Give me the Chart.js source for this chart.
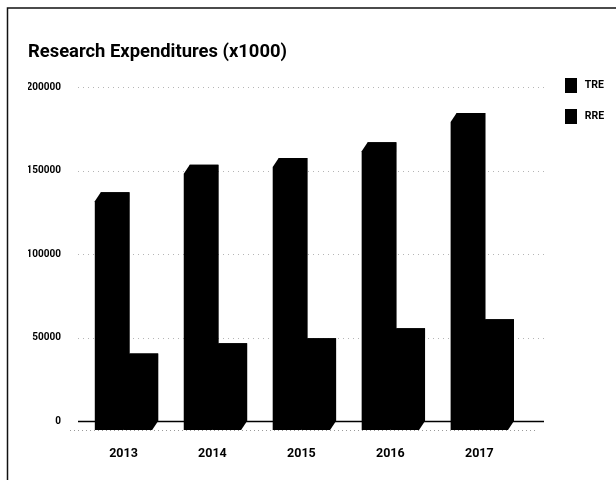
<!DOCTYPE html>
<html>
<head>
<meta charset="utf-8">
<script src="https://cdn.jsdelivr.net/npm/chart.js@4/dist/chart.umd.min.js"></script>
<style>
  html, body { margin: 0; padding: 0; background: #fff; overflow: hidden; }
  canvas { display: block; }
</style>
</head>
<body>
<canvas id="researchChart" width="616" height="480"></canvas>
<script>
const years = ['2013', '2014', '2015', '2016', '2017'];
const tre = [137000, 153500, 157500, 167000, 184500];
const rre = [40500, 46500, 49500, 55500, 61000];
const yTicks = [0, 50000, 100000, 150000, 200000];

// depth of the fake 3d columns
const depthX = -6;
const depthY = 9;

const frameAndGrid = {
  id: 'frameAndGrid',
  afterLayout(chart) {
    // legend sits further out than the layout would put it
    chart.legend.left = 549;
    chart.legend.top = 62;
    chart.legend.right = 616;
    chart.legend.width = 67;
  },
  beforeDatasetsDraw(chart) {
    const ctx = chart.ctx;
    const y = chart.scales.y;
    ctx.save();
    // photocopy border, only top and left
    ctx.strokeStyle = '#111';
    ctx.lineWidth = 1.5;
    ctx.beginPath();
    ctx.moveTo(7.5, 480);
    ctx.lineTo(7.5, 8);
    ctx.lineTo(616, 8);
    ctx.stroke();

    yTicks.forEach(v => {
      const py = Math.round(y.getPixelForValue(v)) + 0.5;
      ctx.beginPath();
      if (v === 0) {
        ctx.strokeStyle = '#000';
        ctx.lineWidth = 1.5;
        ctx.setLineDash([]);
      } else {
        ctx.strokeStyle = '#b5b5b5';
        ctx.lineWidth = 1;
        ctx.setLineDash([1, 4]);
      }
      ctx.moveTo(78, py);
      ctx.lineTo(544, py);
      ctx.stroke();
    });

    // floor edge under the columns
    const floor = Math.round(y.getPixelForValue(0)) + depthY + 0.5;
    ctx.strokeStyle = '#999';
    ctx.lineWidth = 1;
    ctx.setLineDash([1, 3]);
    ctx.beginPath();
    ctx.moveTo(70, floor);
    ctx.lineTo(536, floor);
    ctx.stroke();
    ctx.restore();
  },
  afterDatasetsDraw(chart) {
    const ctx = chart.ctx;
    ctx.save();
    chart.data.datasets.forEach((ds, i) => {
      ctx.fillStyle = ds.backgroundColor;
      chart.getDatasetMeta(i).data.forEach(bar => {
        const p = bar.getProps(['x', 'y', 'base', 'width'], true);
        const l = p.x - p.width / 2;
        const r = p.x + p.width / 2;
        ctx.beginPath();
        ctx.moveTo(l, p.y);
        ctx.lineTo(r, p.y);
        ctx.lineTo(r, p.base);
        ctx.lineTo(r + depthX, p.base + depthY);
        ctx.lineTo(l + depthX, p.base + depthY);
        ctx.lineTo(l + depthX, p.y + depthY);
        ctx.closePath();
        ctx.fill();
      });
    });
    ctx.restore();
  }
};

new Chart(document.getElementById('researchChart'), {
  type: 'bar',
  data: {
    labels: years,
    datasets: [
      { label: 'TRE', data: tre, backgroundColor: '#000' },
      { label: 'RRE', data: rre, backgroundColor: '#000' }
    ]
  },
  plugins: [frameAndGrid],
  options: {
    responsive: false,
    animation: false,
    devicePixelRatio: 1,
    categoryPercentage: 0.645,
    barPercentage: 1,
    layout: { padding: { left: 28, right: 21, top: 0, bottom: 0 } },
    scales: {
      x: {
        grid: { display: false, drawTicks: false },
        border: { display: false },
        afterFit(scale) { scale.height = 59; },
        ticks: {
          color: '#000',
          padding: 25,
          labelOffset: -6,
          maxRotation: 0,
          font: { family: 'Roboto', size: 12.5, weight: 'bold' }
        }
      },
      y: {
        min: 0,
        max: 200000,
        grid: { display: false, drawTicks: false },
        border: { display: false },
        afterFit(scale) { scale.width = 57; },
        afterBuildTicks(scale) { scale.ticks = yTicks.map(v => ({ value: v })); },
        ticks: {
          color: '#000',
          padding: 24,
          callback: v => String(v),
          font: { family: 'Roboto', size: 10, weight: 'bold' }
        }
      }
    },
    plugins: {
      title: {
        display: true,
        text: 'Research Expenditures (x1000)',
        align: 'start',
        color: '#000',
        padding: { top: 41, bottom: 24 },
        font: { family: 'Roboto', size: 18.4, weight: 'bold' }
      },
      legend: {
        position: 'right',
        align: 'start',
        labels: {
          color: '#000',
          boxWidth: 12,
          boxHeight: 15,
          padding: 16,
          font: { family: 'Roboto', size: 10.5, weight: 'bold' },
          // nudge the text away from the swatch
          generateLabels(chart) {
            return Chart.defaults.plugins.legend.labels.generateLabels(chart)
              .map(item => ({ ...item, text: '\u00a0' + item.text }));
          }
        }
      },
      tooltip: { enabled: false }
    }
  }
});
</script>
</body>
</html>
